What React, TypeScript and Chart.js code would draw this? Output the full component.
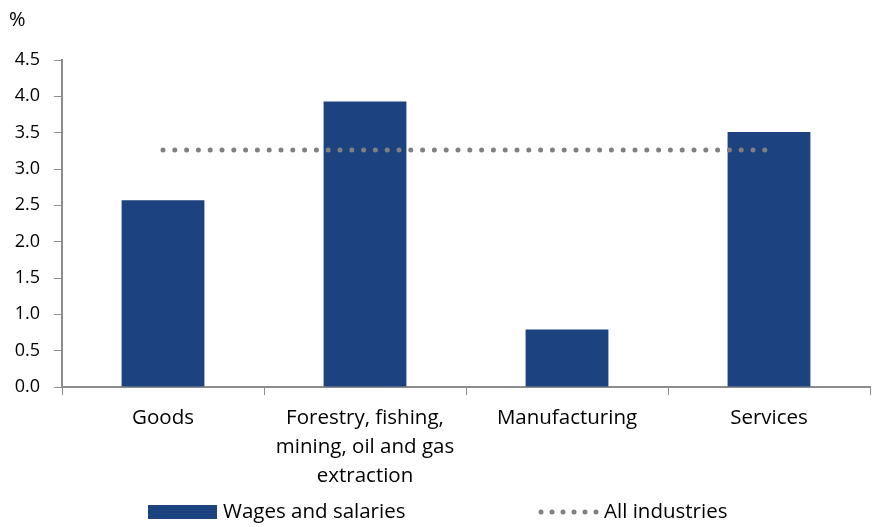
import React, { useEffect, useRef } from "react";
import { Chart, registerables } from "chart.js";

Chart.register(...registerables);

const categories: (string | string[])[] = [
  "Goods",
  ["Forestry, fishing,", "mining, oil and gas", "extraction"],
  "Manufacturing",
  "Services",
];
const wagesAndSalaries = [2.57, 3.93, 0.79, 3.51];
const allIndustries = [3.26, 3.26, 3.26, 3.26];
const seriesNames = ["Wages and salaries", "All industries"];
const yUnit = "%";

const FONT = "'Open Sans', 'Noto Sans', sans-serif";
const BAR = "#1c437f";
const DOT = "#808080";
const AXIS = "#8c8c8c";

export default function App() {
  const ref = useRef<HTMLCanvasElement | null>(null);

  useEffect(() => {
    document.body.style.margin = "0";
    const canvas = ref.current!;
    const overlay = {
      id: "overlay",
      afterDraw(chart: any) {
        const ctx = chart.ctx as CanvasRenderingContext2D;
        ctx.save();
        ctx.font = `20px ${FONT}`;
        ctx.fillStyle = "#000";
        ctx.textBaseline = "middle";
        ctx.textAlign = "left";
        ctx.fillText(yUnit, 9, 20);
        // legend
        ctx.font = `20.5px ${FONT}`;
        const ly = 512;
        ctx.fillStyle = BAR;
        ctx.fillRect(148, ly - 7, 69, 14);
        ctx.fillStyle = "#000";
        ctx.fillText(seriesNames[0], 223, ly);
        ctx.fillStyle = DOT;
        for (let i = 0; i < 6; i++) {
          ctx.beginPath();
          ctx.arc(541 + i * 11, ly, 2.5, 0, Math.PI * 2);
          ctx.fill();
        }
        ctx.fillStyle = "#000";
        ctx.fillText(seriesNames[1], 604, ly);
        ctx.restore();
      },
    };
    const chart = new Chart(canvas, {
      type: "bar",
      data: {
        labels: categories as any,
        datasets: [
          {
            type: "line",
            label: seriesNames[1],
            data: allIndustries,
            borderColor: DOT,
            borderWidth: 5,
            borderDash: [0, 11.8],
            borderCapStyle: "round",
            pointRadius: 0,
            fill: false,
            order: 0,
          } as any,
          {
            type: "bar",
            label: seriesNames[0],
            data: wagesAndSalaries,
            backgroundColor: BAR,
            barPercentage: 0.41,
            categoryPercentage: 1,
            order: 1,
          },
        ],
      },
      options: {
        animation: false,
        responsive: false,
        devicePixelRatio: 1,
        layout: { padding: { top: 60, right: 3, left: 0, bottom: 0 } },
        plugins: {
          legend: { display: false },
          tooltip: { enabled: false },
        },
        scales: {
          x: {
            offset: true,
            grid: {
              offset: true,
              drawOnChartArea: false,
              drawTicks: true,
              tickLength: 8,
              color: AXIS,
            },
            border: { color: AXIS, width: 2 },
            ticks: {
              font: { family: FONT, size: 20.5, lineHeight: 1.4 },
              color: "#000",
              padding: 9,
              maxRotation: 0,
              autoSkip: false,
            },
            afterFit: (s: any) => {
              s.height = 140;
            },
          },
          y: {
            min: 0,
            max: 4.5,
            ticks: {
              stepSize: 0.5,
              font: { family: FONT, size: 18 },
              color: "#000",
              padding: 14,
              callback: (v: any) => Number(v).toFixed(1),
            },
            grid: {
              drawOnChartArea: false,
              tickLength: 8,
              color: AXIS,
            },
            border: { color: AXIS, width: 2 },
            afterFit: (s: any) => {
              s.width = 62;
            },
          },
        },
      },
      plugins: [overlay],
    });
    return () => chart.destroy();
  }, []);

  return (
    <div style={{ width: 873, height: 527 }}>
      <canvas ref={ref} width={873} height={527} style={{ display: "block" }} />
    </div>
  );
}
